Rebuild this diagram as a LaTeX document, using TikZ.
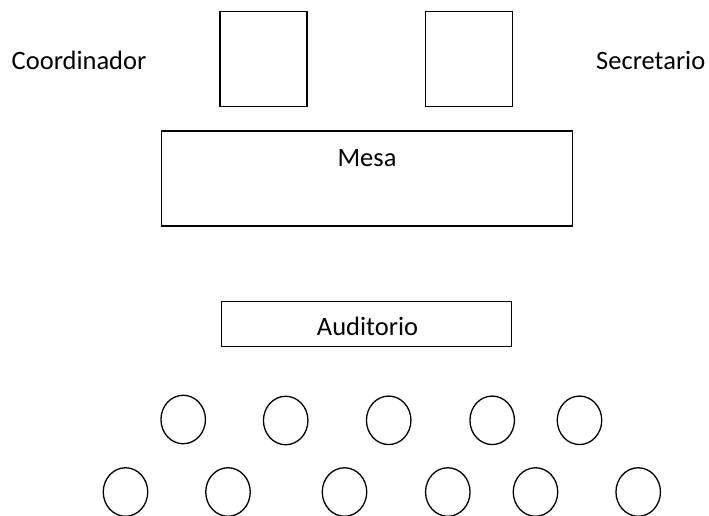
\documentclass[tikz,border=0pt]{standalone}
\usepackage{fontspec}
\setmainfont{Carlito}
\usetikzlibrary{shapes.geometric}
\begin{document}
\begin{tikzpicture}[x=1pt,y=-1pt,
  box/.style={draw=black,line width=1.3pt,rectangle,inner sep=0pt},
  seat/.style={draw=black,line width=1.3pt,ellipse,inner sep=0pt,minimum width=44.5pt,minimum height=48.5pt},
  lbl/.style={inner sep=0pt,font=\fontsize{26.5}{30}\selectfont}]
\useasboundingbox (0,0) rectangle (709,515);
\clip (0,0) rectangle (709,515);
% chairs of the table
\node[box,minimum width=87pt,minimum height=95pt] (coordseat) at (263.5,59) {};
\node[box,minimum width=87pt,minimum height=95pt] (secseat) at (468.8,59) {};
\node[lbl,anchor=base west] (coord) at (11.5,69) {Coordinador};
\node[lbl,anchor=base west] (sec) at (596,69) {Secretario};
% table
\node[box,minimum width=411.4pt,minimum height=95pt] (mesa) at (367,178.5) {};
\node[lbl,anchor=base] (mesatxt) at (367,166.7) {Mesa};
% auditorium label box
\node[box,minimum width=290.4pt,minimum height=45.4pt] (aud) at (366.5,324) {};
\node[lbl,anchor=base] (audtxt) at (367.5,335.7) {Auditorio};
% first row of seats
\node[seat] (r1a) at (183.2,419.5) {};
\node[seat] (r1b) at (285.7,420.5) {};
\node[seat] (r1c) at (388.7,420.3) {};
\node[seat] (r1d) at (492.2,420.3) {};
\node[seat] (r1e) at (579.5,420.3) {};
% second row of seats
\node[seat] (r2a) at (125.5,492) {};
\node[seat] (r2b) at (228,492) {};
\node[seat] (r2c) at (344.5,492) {};
\node[seat] (r2d) at (447.8,492) {};
\node[seat] (r2e) at (535.5,492) {};
\node[seat] (r2f) at (638.2,492) {};
\end{tikzpicture}
\end{document}
